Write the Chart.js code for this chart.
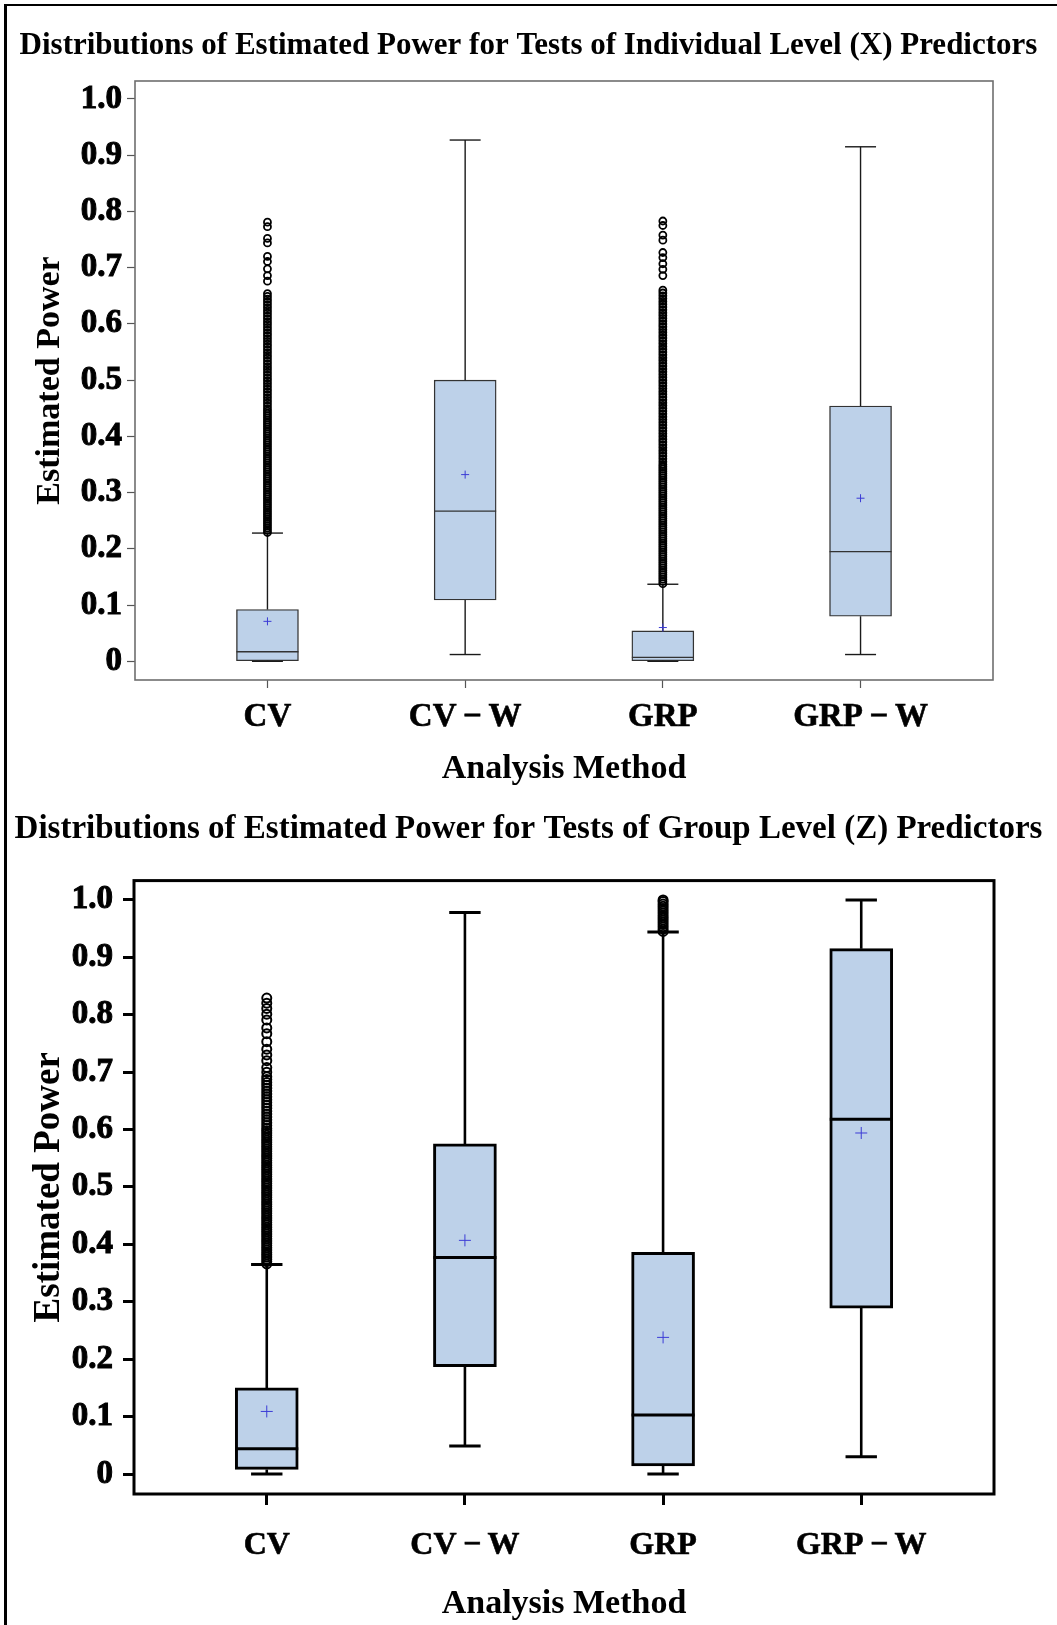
<!DOCTYPE html>
<html>
<head>
<meta charset="utf-8">
<title>Distributions of Estimated Power</title>
<script src="https://cdn.jsdelivr.net/npm/chart.js@4.4.1/dist/chart.umd.min.js"></script>
<style>
  html, body { margin: 0; padding: 0; background: #fff; }
  #page { position: relative; width: 1057px; height: 1625px; overflow: hidden; background: #fff; }
  #edge { position: absolute; left: 4px; top: 4px; width: 1200px; height: 1700px;
          border-top: 2px solid #000; border-left: 3px solid #000; }
  #xPanel { position: absolute; left: 0; top: 0; }
  #zPanel { position: absolute; left: 0; top: 790px; }
</style>
</head>
<body>
<div id="page">
  <div id="edge"></div>
  <canvas id="xPanel" width="1057" height="790"></canvas>
  <canvas id="zPanel" width="1057" height="835"></canvas>
</div>
<script>
// Analysis methods on the horizontal axis
const methods = ['CV', 'CV\u2009\u2212\u2009W', 'GRP', 'GRP\u2009\u2212\u2009W'];

// Vertical axis ticks
const powerTicks = [0, 0.1, 0.2, 0.3, 0.4, 0.5, 0.6, 0.7, 0.8, 0.9, 1.0];
const powerTickLabels = ['0', '0.1', '0.2', '0.3', '0.4', '0.5', '0.6', '0.7', '0.8', '0.9', '1.0'];

// Individual level (X) predictors: box-plot summaries per method
const xWhiskerLow  = [0.000, 0.012, 0.000, 0.012];
const xQ1          = [0.001, 0.109, 0.001, 0.080];
const xMedian      = [0.017, 0.267, 0.007, 0.195];
const xQ3          = [0.092, 0.500, 0.054, 0.454];
const xWhiskerHigh = [0.228, 0.927, 0.137, 0.915];
const xMean        = [0.071, 0.332, 0.060, 0.290];
const xOutliersCV = [
  0.229, 0.233, 0.237, 0.241, 0.245, 0.249, 0.253, 0.257, 0.261, 0.265, 0.269, 0.273, 0.277, 0.281,
  0.285, 0.289, 0.293, 0.297, 0.301, 0.305, 0.309, 0.313, 0.317, 0.321, 0.325, 0.329, 0.333, 0.337,
  0.341, 0.345, 0.349, 0.353, 0.357, 0.361, 0.365, 0.369, 0.373, 0.377, 0.381, 0.385, 0.389, 0.393,
  0.397, 0.401, 0.405, 0.409, 0.413, 0.417, 0.421, 0.425, 0.429, 0.433, 0.437, 0.441, 0.445, 0.449,
  0.454, 0.459, 0.464, 0.469, 0.474, 0.479, 0.484, 0.489, 0.494, 0.499, 0.504, 0.509, 0.514, 0.519,
  0.524, 0.529, 0.534, 0.539, 0.544, 0.549, 0.554, 0.559, 0.564, 0.569, 0.574, 0.579, 0.584, 0.589,
  0.594, 0.599, 0.604, 0.609, 0.614, 0.619, 0.624, 0.629, 0.634, 0.639, 0.644, 0.649, 0.654,
  0.676, 0.686, 0.698, 0.711, 0.720, 0.744, 0.752, 0.773, 0.781
];
const xOutliersGRP = [
  0.138, 0.142, 0.146, 0.150, 0.154, 0.158, 0.162, 0.166, 0.170, 0.174, 0.178, 0.182, 0.186, 0.190,
  0.194, 0.198, 0.202, 0.206, 0.210, 0.214, 0.218, 0.222, 0.226, 0.230, 0.234, 0.238, 0.242, 0.246,
  0.250, 0.254, 0.258, 0.262, 0.266, 0.270, 0.274, 0.278, 0.282, 0.286, 0.290, 0.294, 0.298, 0.302,
  0.306, 0.310, 0.314, 0.318, 0.322, 0.326, 0.330, 0.334, 0.338, 0.342, 0.346, 0.350,
  0.355, 0.360, 0.365, 0.370, 0.375, 0.380, 0.385, 0.390, 0.395, 0.400, 0.405, 0.410, 0.415, 0.420,
  0.425, 0.430, 0.435, 0.440, 0.445, 0.450, 0.455, 0.460, 0.465, 0.470, 0.475, 0.480, 0.485, 0.490,
  0.495, 0.500, 0.505, 0.510, 0.515, 0.520, 0.525, 0.530, 0.535, 0.540, 0.545, 0.550, 0.555, 0.560,
  0.565, 0.570, 0.575, 0.580, 0.585, 0.590, 0.595, 0.600, 0.605, 0.610, 0.615, 0.620, 0.625, 0.630,
  0.635, 0.640, 0.645, 0.650, 0.655, 0.660,
  0.686, 0.697, 0.707, 0.718, 0.727, 0.749, 0.758, 0.775, 0.783
];

// Group level (Z) predictors: box-plot summaries per method
const zWhiskerLow  = [0.000, 0.049, 0.000, 0.030];
const zQ1          = [0.008, 0.187, 0.014, 0.289];
const zMedian      = [0.044, 0.377, 0.103, 0.618];
const zQ3          = [0.150, 0.575, 0.386, 0.915];
const zWhiskerHigh = [0.365, 0.978, 0.944, 1.000];
const zMean        = [0.109, 0.407, 0.238, 0.594];
const zOutliersCV = [
  0.366, 0.370, 0.374, 0.378, 0.382, 0.386, 0.390, 0.394, 0.398, 0.402, 0.406, 0.410, 0.414, 0.418,
  0.422, 0.426, 0.430, 0.434, 0.438, 0.442, 0.446, 0.450, 0.454, 0.458, 0.462, 0.466, 0.470, 0.474,
  0.478, 0.482, 0.486, 0.490, 0.494, 0.498, 0.502, 0.506, 0.510, 0.514, 0.518, 0.522, 0.526, 0.530,
  0.534, 0.538, 0.542, 0.546, 0.550, 0.554, 0.558, 0.562, 0.566, 0.570, 0.574, 0.578, 0.582, 0.586,
  0.590, 0.594, 0.598, 0.602,
  0.607, 0.612, 0.617, 0.622, 0.627, 0.632, 0.637, 0.642, 0.647, 0.652, 0.657, 0.662, 0.667, 0.672,
  0.677, 0.682, 0.687, 0.692,
  0.700, 0.708, 0.720, 0.730, 0.740, 0.753, 0.767, 0.777, 0.791, 0.801, 0.811, 0.820, 0.829
];
const zOutliersGRP = [
  0.945, 0.949, 0.953, 0.957, 0.961, 0.965, 0.969, 0.973, 0.977, 0.981, 0.985, 0.989, 0.993, 0.997, 1.000
];

const SERIF = "'Liberation Serif', 'Times New Roman', serif";
const BOX_FILL = '#bdd1e9';
const MEAN_BLUE = '#3b3bd6';

// Rectangle round the plotting area
const plotFrame = {
  id: 'plotFrame',
  afterDatasetsDraw(chart, args, opts) {
    const { ctx, chartArea: a } = chart;
    ctx.save();
    ctx.strokeStyle = opts.color;
    ctx.lineWidth = opts.width;
    ctx.strokeRect(a.left, a.top, a.right - a.left, a.bottom - a.top);
    ctx.restore();
  }
};

function boxPlotChart(canvasId, p) {
  const pos = methods.map((m, i) => i + 1);

  const boxes = pos.map((x, i) => ({ x, y: [p.q1[i], p.q3[i]] }));
  const whiskers = [];
  pos.forEach((x, i) => {
    whiskers.push({ x, y: p.q3[i] }, { x, y: p.hi[i] }, { x, y: null },
                  { x, y: p.q1[i] }, { x, y: p.lo[i] }, { x, y: null });
  });
  const caps = pos.flatMap((x, i) => [{ x, y: p.hi[i] }, { x, y: p.lo[i] }]);
  const medians = pos.map((x, i) => ({ x, y: p.med[i] }));
  const means = pos.map((x, i) => ({ x, y: p.mean[i] }));
  const outliers = pos.flatMap((x, i) => p.out[i].map(y => ({ x, y })));

  const axes = { xAxisID: 'x', yAxisID: 'y' };

  return new Chart(document.getElementById(canvasId), {
    type: 'bar',
    data: {
      datasets: [
        { ...axes, type: 'scatter', order: 0, data: means, pointStyle: 'cross',
          pointRadius: p.meanRadius, pointBorderColor: MEAN_BLUE, pointBorderWidth: 1,
          pointBackgroundColor: MEAN_BLUE },
        { ...axes, type: 'scatter', order: 1, data: outliers, pointStyle: 'circle',
          pointRadius: p.outRadius, pointBorderColor: '#000', pointBorderWidth: p.outWidth,
          pointBackgroundColor: 'rgba(255,255,255,0)' },
        { ...axes, type: 'scatter', order: 2, data: medians, pointStyle: 'line',
          pointRadius: p.boxWidth / 2, pointBorderColor: p.edge, pointBorderWidth: p.lineWidth },
        { ...axes, type: 'scatter', order: 3, data: caps, pointStyle: 'line',
          pointRadius: p.capHalf, pointBorderColor: p.stem, pointBorderWidth: p.lineWidth },
        { ...axes, type: 'line', order: 4, data: whiskers, borderColor: p.stem, borderWidth: p.stemWidth,
          pointRadius: 0, spanGaps: false, fill: false, borderCapStyle: 'butt' },
        { ...axes, type: 'bar', order: 5, data: boxes, backgroundColor: BOX_FILL, borderColor: p.edge,
          borderWidth: p.lineWidth, borderSkipped: false, barThickness: p.boxWidth }
      ]
    },
    options: {
      responsive: false,
      animation: false,
      events: [],
      layout: { padding: 0 },
      plugins: {
        legend: { display: false },
        tooltip: { enabled: false },
        title: {
          display: true, text: p.title, color: '#000',
          font: { family: SERIF, size: p.titleSize, weight: 'bold' },
          padding: { top: p.titleTop, bottom: p.titleBottom }
        },
        plotFrame: { color: p.frameColor, width: p.frameWidth }
      },
      scales: {
        x: {
          type: 'linear', min: 0.33, max: 4.67, offset: false,
          afterBuildTicks: s => { s.ticks = pos.map(v => ({ value: v })); },
          afterFit: s => { s.height = p.xAxisHeight; },
          ticks: {
            callback: (v, i) => methods[i], color: '#000', autoSkip: false, maxRotation: 0,
            padding: p.xTickPad, font: { family: SERIF, size: p.xTickSize, weight: 'bold' },
            textStrokeColor: '#000', textStrokeWidth: 0.6
          },
          grid: { drawOnChartArea: false, drawTicks: true, offset: false,
                  tickLength: p.tickLen, tickWidth: p.tickWidth, tickColor: p.tickColor },
          border: { display: false },
          title: {
            display: true, text: 'Analysis Method', color: '#000',
            font: { family: SERIF, size: p.xTitleSize, weight: 'bold' },
            padding: { top: 0, bottom: p.xTitleBottom }
          }
        },
        y: {
          type: 'linear', min: p.yMin, max: p.yMax,
          afterBuildTicks: s => { s.ticks = powerTicks.map(v => ({ value: v })); },
          afterFit: s => { s.width = p.yAxisWidth; },
          ticks: {
            callback: (v, i) => powerTickLabels[i], color: '#000', padding: p.yTickPad,
            font: { family: SERIF, size: p.yTickSize, weight: 'bold' },
            textStrokeColor: '#000', textStrokeWidth: 1
          },
          grid: { drawOnChartArea: false, drawTicks: true,
                  tickLength: p.tickLen, tickWidth: p.tickWidth, tickColor: p.tickColor },
          border: { display: false },
          title: {
            display: true, text: 'Estimated Power', color: '#000',
            font: { family: SERIF, size: p.yTitleSize, weight: 'bold' },
            padding: { top: p.yTitleTop, bottom: 0 }
          }
        },
        // empty margin to the right of the plot
        gutter: {
          type: 'linear', position: 'right', display: true,
          ticks: { display: false }, grid: { display: false }, border: { display: false },
          afterFit: s => { s.width = p.padRight; }
        }
      }
    },
    plugins: [plotFrame]
  });
}

boxPlotChart('xPanel', {
  title: 'Distributions of Estimated Power for Tests of Individual Level (X) Predictors',
  lo: xWhiskerLow, q1: xQ1, med: xMedian, q3: xQ3, hi: xWhiskerHigh, mean: xMean,
  out: [xOutliersCV, [], xOutliersGRP, []],
  titleSize: 31, titleTop: 27, titleBottom: 16.8,
  yMin: -0.0333, yMax: 1.032, yAxisWidth: 135, xAxisHeight: 110, padRight: 64,
  yTickSize: 33, yTickPad: 5, xTickSize: 33, xTickPad: 10, xTitleSize: 34, xTitleBottom: 0,
  yTitleSize: 34, yTitleTop: 30,
  tickLen: 8, tickWidth: 1.2, tickColor: '#555',
  frameColor: '#6e6e6e', frameWidth: 1.6,
  boxWidth: 62, capHalf: 15.5, lineWidth: 1.4, stemWidth: 1.4, edge: '#333', stem: '#1a1a1a',
  meanRadius: 4, outRadius: 3.5, outWidth: 1.8
});

boxPlotChart('zPanel', {
  title: 'Distributions of Estimated Power for Tests of Group Level (Z) Predictors',
  lo: zWhiskerLow, q1: zQ1, med: zMedian, q3: zQ3, hi: zWhiskerHigh, mean: zMean,
  out: [zOutliersCV, [], zOutliersGRP, []],
  titleSize: 33, titleTop: 20, titleBottom: 31,
  yMin: -0.0348, yMax: 1.0336, yAxisWidth: 134, xAxisHeight: 131, padRight: 63,
  yTickSize: 33, yTickPad: 10, xTickSize: 32, xTickPad: 22, xTitleSize: 34, xTitleBottom: 0,
  yTitleSize: 37, yTitleTop: 27,
  tickLen: 11, tickWidth: 3, tickColor: '#000',
  frameColor: '#000', frameWidth: 3,
  boxWidth: 63, capHalf: 15.7, lineWidth: 3, stemWidth: 2.6, edge: '#000', stem: '#000',
  meanRadius: 6, outRadius: 4.5, outWidth: 2
});
</script>
</body>
</html>
